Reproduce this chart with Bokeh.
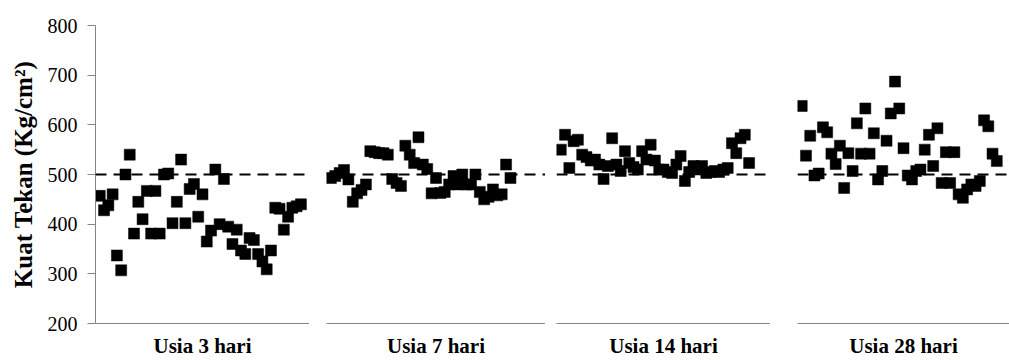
from bokeh.plotting import figure
from bokeh.layouts import row
from bokeh.models import Range1d, Span, FixedTicker, ColumnDataSource
from bokeh.embed import file_html
from bokeh.resources import INLINE

# ---- data ----
group_names = ["Usia 3 hari", "Usia 7 hari", "Usia 14 hari", "Usia 28 hari"]

usia_3 = [457, 428, 438, 460, 337, 307, 500, 540, 381, 445, 410, 467, 381, 467, 381, 500,
          502, 402, 445, 530, 402, 471, 481, 415, 460, 365, 387, 510, 400, 491, 395, 360,
          389, 347, 340, 372, 368, 340, 325, 309, 347, 433, 431, 389, 415, 433, 436, 440]

usia_7 = [493, 497, 503, 509, 490, 445, 462, 469, 480, 547, 545, 543, 543, 540, 491, 483,
          477, 558, 540, 523, 575, 520, 511, 462, 493, 463, 465, 480, 497, 480, 500, 480,
          480, 500, 465, 450, 455, 470, 458, 460, 520, 493]

usia_14 = [550, 580, 513, 567, 570, 540, 535, 528, 530, 520, 491, 517, 573, 520, 507, 547,
           523, 515, 510, 547, 530, 560, 528, 510, 510, 505, 503, 520, 537, 487, 505, 517,
           510, 517, 503, 505, 507, 505, 510, 513, 563, 543, 573, 580, 523]

usia_28 = [638, 538, 578, 498, 502, 595, 585, 542, 521, 558, 473, 543, 507, 603, 542, 633,
           542, 583, 490, 507, 568, 623, 687, 633, 553, 498, 490, 507, 510, 550, 580, 517,
           593, 483, 545, 483, 545, 460, 453, 470, 480, 477, 487, 609, 597, 542, 527]

series = [usia_3, usia_7, usia_14, usia_28]

target_strength = 500
y_ticks = [200, 300, 400, 500, 600, 700, 800]

# ---- layout / style ----
FONT = "Liberation Serif"
GREY = "#868686"
frame_widths = [214, 219, 214, 212]
left_borders = [95, 17, 11, 27]
x_ends = [50, 50, 50, 50]

figs = []
for i, (name, vals) in enumerate(zip(group_names, series)):
    p = figure(width=left_borders[i] + frame_widths[i], height=360,
               output_backend="svg", toolbar_location=None,
               x_range=Range1d(0, x_ends[i]), y_range=Range1d(200, 800),
               min_border_left=left_borders[i], min_border_right=0,
               min_border_top=25, min_border_bottom=35,
               y_axis_location="left" if i == 0 else None)
    p.outline_line_color = None
    p.grid.visible = False
    p.background_fill_color = "white"
    p.border_fill_color = "white"

    xa = p.xaxis[0]
    xa.ticker = FixedTicker(ticks=[])
    xa.axis_line_color = GREY
    xa.axis_line_width = 1
    xa.major_tick_line_color = None
    xa.minor_tick_line_color = None
    xa.axis_label = name
    xa.axis_label_text_font = FONT
    xa.axis_label_text_font_style = "bold"
    xa.axis_label_text_font_size = "21px"
    xa.axis_label_text_color = "black"
    xa.axis_label_standoff = 10

    if i == 0:
        ya = p.yaxis[0]
        ya.ticker = FixedTicker(ticks=y_ticks)
        ya.axis_line_color = GREY
        ya.major_tick_line_color = GREY
        ya.major_tick_out = 8
        ya.major_tick_in = 0
        ya.minor_tick_line_color = None
        ya.major_label_standoff = 10
        ya.major_label_text_font = FONT
        ya.major_label_text_font_size = "20px"
        ya.major_label_text_color = "black"
        ya.axis_label = "Kuat Tekan (Kg/cm²)"
        ya.axis_label_text_font = FONT
        ya.axis_label_text_font_style = "bold"
        ya.axis_label_text_font_size = "25px"
        ya.axis_label_text_color = "black"
        ya.axis_label_standoff = 8

    p.add_layout(Span(location=target_strength, dimension="width",
                      line_color="black", line_width=2, line_dash="11 7"))

    src = ColumnDataSource(dict(x=list(range(1, len(vals) + 1)), y=vals))
    p.scatter("x", "y", source=src, marker="square", size=11,
              fill_color="black", line_color="black", line_width=0.5)
    figs.append(p)

layout = row(*figs, spacing=0)
open("out.html", "w").write(file_html(layout, INLINE))
